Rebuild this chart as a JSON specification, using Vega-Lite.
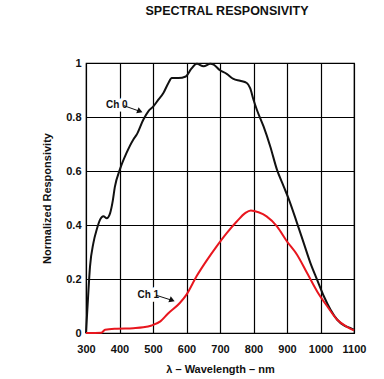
{
  "$schema": "https://vega.github.io/schema/vega-lite/v6.json",
  "autosize": {"type": "none"},
  "width": 268,
  "height": 270,
  "padding": {"left": 86, "top": 63, "right": 30, "bottom": 46},
  "background": "white",
  "title": {"text": "SPECTRAL RESPONSIVITY", "font": "Liberation Sans", "fontSize": 12.5, "fontWeight": "bold", "color": "#111", "anchor": "middle", "dx": 7, "offset": 40},
  "config": {
    "view": {"stroke": "black", "strokeWidth": 1.2},
    "axis": {"labelFont": "Liberation Sans", "labelFontWeight": "bold", "labelFontSize": 11, "labelColor": "#111", "titleFont": "Liberation Sans", "titleFontWeight": "bold", "titleFontSize": 11, "titleColor": "#111", "grid": true, "gridColor": "black", "gridOpacity": 1, "gridWidth": 1.2, "domain": false, "ticks": false, "labelOverlap": false, "labelFlush": false}
  },
  "datasets": {
    "curves": [
      {"series": "Ch 0", "wl": 300, "v": 0},
      {"series": "Ch 0", "wl": 304, "v": 0.086},
      {"series": "Ch 0", "wl": 312, "v": 0.247},
      {"series": "Ch 0", "wl": 322, "v": 0.333},
      {"series": "Ch 0", "wl": 332, "v": 0.383},
      {"series": "Ch 0", "wl": 342, "v": 0.42},
      {"series": "Ch 0", "wl": 352, "v": 0.432},
      {"series": "Ch 0", "wl": 362, "v": 0.425},
      {"series": "Ch 0", "wl": 372, "v": 0.444},
      {"series": "Ch 0", "wl": 380, "v": 0.49},
      {"series": "Ch 0", "wl": 386, "v": 0.54},
      {"series": "Ch 0", "wl": 401, "v": 0.605},
      {"series": "Ch 0", "wl": 421, "v": 0.667},
      {"series": "Ch 0", "wl": 441, "v": 0.716},
      {"series": "Ch 0", "wl": 451, "v": 0.734},
      {"series": "Ch 0", "wl": 471, "v": 0.79},
      {"series": "Ch 0", "wl": 486, "v": 0.821},
      {"series": "Ch 0", "wl": 501, "v": 0.839},
      {"series": "Ch 0", "wl": 516, "v": 0.864},
      {"series": "Ch 0", "wl": 531, "v": 0.889},
      {"series": "Ch 0", "wl": 546, "v": 0.926},
      {"series": "Ch 0", "wl": 556, "v": 0.944},
      {"series": "Ch 0", "wl": 576, "v": 0.944},
      {"series": "Ch 0", "wl": 598, "v": 0.95},
      {"series": "Ch 0", "wl": 614, "v": 0.978},
      {"series": "Ch 0", "wl": 631, "v": 0.997},
      {"series": "Ch 0", "wl": 651, "v": 0.988},
      {"series": "Ch 0", "wl": 671, "v": 0.997},
      {"series": "Ch 0", "wl": 681, "v": 0.994},
      {"series": "Ch 0", "wl": 700, "v": 0.973},
      {"series": "Ch 0", "wl": 720, "v": 0.96},
      {"series": "Ch 0", "wl": 740, "v": 0.941},
      {"series": "Ch 0", "wl": 760, "v": 0.934},
      {"series": "Ch 0", "wl": 780, "v": 0.926},
      {"series": "Ch 0", "wl": 790, "v": 0.907},
      {"series": "Ch 0", "wl": 800, "v": 0.864},
      {"series": "Ch 0", "wl": 810, "v": 0.827},
      {"series": "Ch 0", "wl": 830, "v": 0.765},
      {"series": "Ch 0", "wl": 850, "v": 0.691},
      {"series": "Ch 0", "wl": 870, "v": 0.605},
      {"series": "Ch 0", "wl": 890, "v": 0.543},
      {"series": "Ch 0", "wl": 905, "v": 0.497},
      {"series": "Ch 0", "wl": 930, "v": 0.407},
      {"series": "Ch 0", "wl": 950, "v": 0.333},
      {"series": "Ch 0", "wl": 970, "v": 0.259},
      {"series": "Ch 0", "wl": 990, "v": 0.197},
      {"series": "Ch 0", "wl": 1010, "v": 0.136},
      {"series": "Ch 0", "wl": 1030, "v": 0.086},
      {"series": "Ch 0", "wl": 1050, "v": 0.049},
      {"series": "Ch 0", "wl": 1070, "v": 0.028},
      {"series": "Ch 0", "wl": 1090, "v": 0.018},
      {"series": "Ch 0", "wl": 1100, "v": 0.012},
      {"series": "Ch 1", "wl": 300, "v": 0},
      {"series": "Ch 1", "wl": 346, "v": 0.001},
      {"series": "Ch 1", "wl": 357, "v": 0.012},
      {"series": "Ch 1", "wl": 392, "v": 0.016},
      {"series": "Ch 1", "wl": 441, "v": 0.018},
      {"series": "Ch 1", "wl": 471, "v": 0.021},
      {"series": "Ch 1", "wl": 496, "v": 0.028},
      {"series": "Ch 1", "wl": 522, "v": 0.043},
      {"series": "Ch 1", "wl": 545, "v": 0.072},
      {"series": "Ch 1", "wl": 580, "v": 0.111},
      {"series": "Ch 1", "wl": 600, "v": 0.142},
      {"series": "Ch 1", "wl": 630, "v": 0.21},
      {"series": "Ch 1", "wl": 660, "v": 0.268},
      {"series": "Ch 1", "wl": 690, "v": 0.321},
      {"series": "Ch 1", "wl": 720, "v": 0.37},
      {"series": "Ch 1", "wl": 750, "v": 0.413},
      {"series": "Ch 1", "wl": 775, "v": 0.444},
      {"series": "Ch 1", "wl": 792, "v": 0.454},
      {"series": "Ch 1", "wl": 815, "v": 0.447},
      {"series": "Ch 1", "wl": 839, "v": 0.432},
      {"series": "Ch 1", "wl": 870, "v": 0.395},
      {"series": "Ch 1", "wl": 900, "v": 0.339},
      {"series": "Ch 1", "wl": 930, "v": 0.29},
      {"series": "Ch 1", "wl": 960, "v": 0.222},
      {"series": "Ch 1", "wl": 990, "v": 0.154},
      {"series": "Ch 1", "wl": 1020, "v": 0.099},
      {"series": "Ch 1", "wl": 1050, "v": 0.049},
      {"series": "Ch 1", "wl": 1080, "v": 0.022},
      {"series": "Ch 1", "wl": 1100, "v": 0.01}
    ],
    "notes": [
      {"label": "Ch 0", "tx": 392, "ty": 0.843, "ax": 413, "ay": 0.842, "bx": 461, "by": 0.821},
      {"label": "Ch 1", "tx": 486, "ty": 0.139, "ax": 509, "ay": 0.14, "bx": 557, "by": 0.121}
    ]
  },
  "layer": [
    {
      "data": {"name": "notes"},
      "mark": {"type": "text", "font": "Liberation Sans", "fontSize": 10, "fontWeight": "bold", "color": "white", "stroke": "white", "strokeWidth": 7, "align": "center", "baseline": "middle"},
      "encoding": {
        "x": {"field": "tx", "type": "quantitative", "scale": {"domain": [300, 1100], "nice": false, "zero": false}, "axis": {"values": [300, 400, 500, 600, 700, 800, 900, 1000, 1100], "tickCount": 20, "format": "d", "title": "λ – Wavelength – nm", "labelPadding": 10, "titlePadding": 9}},
        "y": {"field": "ty", "type": "quantitative", "scale": {"domain": [0, 1], "nice": false}, "axis": {"values": [0, 0.2, 0.4, 0.6, 0.8, 1], "tickCount": 20, "format": "~g", "title": "Normalized Responsivity", "labelPadding": 5, "titlePadding": 13}},
        "text": {"field": "label"}
      }
    },
    {
      "data": {"name": "curves"},
      "mark": {"type": "line", "strokeWidth": 2, "interpolate": "monotone"},
      "encoding": {
        "x": {"field": "wl", "type": "quantitative"},
        "y": {"field": "v", "type": "quantitative"},
        "color": {"field": "series", "type": "nominal", "scale": {"domain": ["Ch 0", "Ch 1"], "range": ["#111111", "#e8161e"]}, "legend": null}
      }
    },
    {
      "data": {"name": "notes"},
      "mark": {"type": "rule", "color": "#111", "strokeWidth": 1},
      "encoding": {
        "x": {"field": "ax", "type": "quantitative"},
        "y": {"field": "ay", "type": "quantitative"},
        "x2": {"field": "bx"},
        "y2": {"field": "by"}
      }
    },
    {
      "data": {"name": "notes"},
      "mark": {"type": "point", "shape": "triangle-right", "filled": true, "color": "#111", "size": 40, "angle": 22, "opacity": 1},
      "encoding": {
        "x": {"field": "bx", "type": "quantitative"},
        "y": {"field": "by", "type": "quantitative"}
      }
    },
    {
      "data": {"name": "notes"},
      "mark": {"type": "text", "font": "Liberation Sans", "fontSize": 10, "fontWeight": "bold", "color": "#111", "align": "center", "baseline": "middle"},
      "encoding": {
        "x": {"field": "tx", "type": "quantitative"},
        "y": {"field": "ty", "type": "quantitative"},
        "text": {"field": "label"}
      }
    }
  ]
}
